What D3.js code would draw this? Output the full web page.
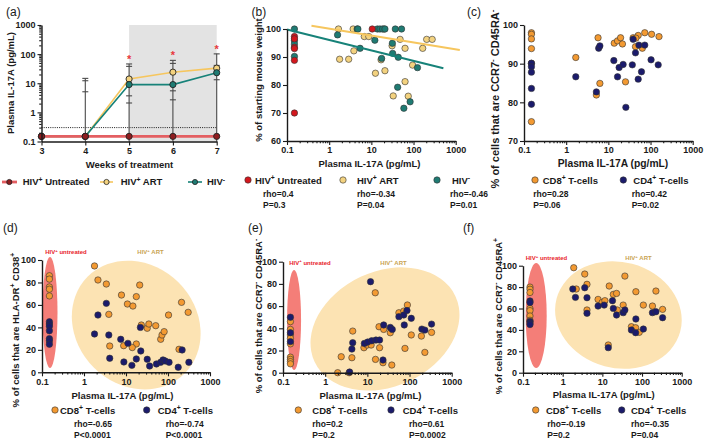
<!DOCTYPE html>
<html><head><meta charset="utf-8">
<script src="https://cdn.jsdelivr.net/npm/d3@7"></script>
<style>
body{margin:0;background:#fff}
svg text{font-family:"Liberation Sans",Arial,Helvetica,sans-serif}
.axis path,.axis line{stroke:#1a1a1a}
.axis path{stroke-width:1.4px}
.axis line{stroke-width:1.1px}
.axis text{font-family:"Liberation Sans",Arial,sans-serif;font-size:9px;font-weight:bold;fill:#1a1a1a}
</style></head>
<body><svg id="c" width="709" height="440"></svg>
<script>
// ---------------- DATA ----------------
// (a) plasma IL-17A over time
const weeks = [3,4,5,6,7];
const weekLabels = ["3","4","5","6","7"];
const untreatedMean = [0.15,0.15,0.15,0.15,0.15];
const artMean = [0.15,0.15,14,24,33];
const negMean = [0.15,0.15,9,9,23];
const artHi = [null,14.7,46,61,102];
const artLo = [null,null,2.1,2.7,13.2];
const negHi = [null,12.2,38,48,41];
const negLo = [null,5.1,3.7,5.5,null];
const sigWeeks = [5,6,7];
const sigTops = [46,61,102];
const detectionLimit = 0.3;
const shadedWeeks = [5,7];
const logDecades = [0.1,1,10,100,1000];
const logLabels = ["0.1","1","10","100","1000"];

// (b) weight vs IL-17A
const bUntreated = [[0.15,97.3],[0.15,96.5],[0.15,93.5],[0.15,93],[0.15,88.8],[0.15,70],[10.5,100]];
const bArt = [[1.66,100],[1.77,89.2],[2.9,89.2],[3.7,100],[3.85,92.2],[6.8,97.3],[8.7,97.3],[12.5,84.2],[17,89],[20,100],[21,85.1],[31,94],[33,76.1],[48,96.3],[63,93.1],[63,81.2],[75,76],[95,87.1],[165,93.1],[205,96.3],[277,96.3]];
const bNeg = [[0.15,100],[0.15,95.8],[0.15,94.6],[0.15,90.2],[1.58,97.9],[4.6,100],[4.8,100],[5.4,93.1],[12.1,96],[13.9,100],[16,100],[18.5,100],[21,100],[17.5,89.5],[31.5,94.9],[32,91.3],[37,100],[42,79.2],[43.5,89.9],[52,100],[59,71.7],[83,74],[124,86.2]];
const bArtFit = [[0.38,101.2],[1250,92.5]];
const bNegFit = [[0.1,99.8],[510,86]];
const bYTicks = [60,70,80,90,100];
const bYLabels = ["60","70","80","90","100"];
const bStats = [["rho=0.4","P=0.3"],["rho=-0.34","P=0.04"],["rho=-0.46","P=0.01"]];

// (c) CCR7- CD45RA-
const cCD8 = [[0.15,98],[0.15,97.6],[0.15,96.4],[0.15,93.9],[0.15,90.1],[0.15,75],[1.69,91.6],[5.7,96.7],[6.3,84.9],[5.2,81.9],[13.8,95.3],[16.5,95.9],[19.5,96.7],[21.6,95.1],[25.5,85.3],[38.7,96.7],[44,94.4],[51,97.3],[64,94],[73,98],[106,97.6],[159,97],[45,96.6]];
const cCD4 = [[0.15,90.1],[0.15,89.2],[0.15,87.8],[0.15,83.6],[0.15,79.5],[1.69,86.6],[5.2,82.7],[5.9,94],[6.3,94.6],[13.5,90.8],[16.5,86.6],[18,89],[22.4,89.8],[26,78.7],[37,89.7],[38.7,96.3],[44,92.8],[51,86],[53,94.8],[61,87.9],[73,94.8],[103,91],[152,89.7]];
const cYTicks = [70,80,90,100];
const cYLabels = ["70","80","90","100"];
const cStats = [["rho=0.28","P=0.06"],["rho=0.42","P=0.02"]];

// (d) HLA-DR+ CD38+
const dCD8 = [[0.15,86],[0.15,83],[0.15,76],[0.15,74],[0.15,68],[1.78,94.7],[2.15,82.2],[3.4,78.6],[3.9,51.6],[4.1,23.4],[7.8,68.8],[8.8,23.7],[10.8,60.8],[14.6,59],[17.6,67.4],[17.6,25.2],[14.1,22],[21.2,77.7],[23.2,42.1],[32,39.2],[35,43],[51,41.5],[67,29.4],[72,33.2],[81,36.2],[103,51],[183,20.5],[210,62.3],[302,53.4]];
const dCD4 = [[0.15,45],[0.15,43],[0.15,41],[0.15,37],[0.15,30],[0.15,28],[0.15,25],[1.78,34.1],[2.15,51],[3.4,61.4],[3.9,33.2],[4.1,12.5],[7.5,29.4],[8.9,9.2],[11.1,25.8],[13.8,6.2],[17.6,11.9],[22,40],[22.5,19],[32,11.6],[36.5,5.6],[53,7.4],[67,8.9],[76,11],[86,10.1],[106,8.9],[175,4.5],[217,19.9],[314,8.9]];
const dStats = [["rho=-0.65","P<0.0001"],["rho=-0.74","P<0.0001"]];

// (e) CCR7- CD45RA-
const eCD8 = [[0.15,46],[0.15,39],[0.15,34],[0.15,31],[0.15,26],[0.15,14],[0.15,12],[0.15,10],[0.15,8],[1.98,0],[2.4,14.4],[3.7,0],[4.3,13.5],[4.5,37.5],[8.3,22.5],[9.9,24.9],[12.3,24.9],[15.4,72],[15.6,12],[18.9,41.4],[19.5,22.5],[23.5,9],[24.4,39],[35,36],[38,6.9],[56,54],[73,55.5],[78,21.9],[89,61],[110,34],[191,33],[231,18.3],[333,36.3]];
const eCD4 = [[0.15,50],[0.15,36],[0.15,28],[3.8,0.6],[4.3,21.3],[4.5,27],[8.5,26.4],[10.2,27.6],[12.7,28.8],[16,29.4],[19.5,29.4],[11.9,82],[23.5,11.4],[24.4,43],[35,40.8],[39,39],[56,50.5],[73,52],[75,43],[87,56],[110,49],[196,39.3],[231,38.4],[333,43.8]];
const eStats = [["rho=0.2","P=0.2"],["rho=0.61","P=0.0002"]];

// (f) CCR7- CD45RA+
const fCD8 = [[0.15,80],[0.15,78],[0.15,75],[0.15,60],[0.15,58],[0.15,53],[0.15,49],[1.9,98.1],[2.2,78.2],[3.6,92.2],[4.1,82.6],[4.1,58.6],[7.8,68.5],[9.9,65.7],[11.6,67.3],[14.9,81],[14.1,25.9],[18.9,73.2],[22.8,74.1],[23.8,58.6],[33.5,63.2],[37,90.3],[54,43],[69,42],[70,75.7],[85,37.7],[108,63.2],[183,62.3],[224,76.3],[330,59.2]];
const fCD4 = [[0.15,67],[0.15,65.5],[0.15,48],[0.15,46.5],[0.15,45],[1.8,78.2],[2.1,70.4],[3.6,79.4],[4.1,70.1],[4.1,55.5],[7.8,62.3],[11.1,63.2],[14.1,23.4],[18,67.3],[18.9,60.1],[22.8,53.9],[33.5,56.1],[37,58.6],[54,39.9],[69,37.4],[70,50.2],[108,40.8],[183,56.1],[224,57],[330,51.4]];
const fStats = [["rho=-0.19","P=0.2"],["rho=-0.35","P=0.04"]];
const pctTicks = [0,20,40,60,80,100];
const pctLabels = ["0","20","40","60","80","100"];

// ---------------- STYLE ----------------
const C = {
  red:"#d3171d", redLine:"#e45f62", redMk:"#8e1d1f",
  yel:"#f3d27f", yelLine:"#f6c65e", teal:"#1f7b73", tealLine:"#178279",
  org:"#f39a32", navy:"#1b1b6c", ink:"#1a1a1a",
  ellRed:"#f47e78", ellYel:"#fce3b3", txtRed:"#e8242b", txtArt:"#c9a353"
};
const svg = d3.select('#c');
const FONT = '"Liberation Sans",Arial,Helvetica,sans-serif';

function rich(t, str, fs){
  const parts = str.split(/(\^.)/).filter(p=>p.length);
  let up=false;
  parts.forEach(p=>{
    if(p[0]==='^'){ t.append('tspan').attr('font-size',fs*0.72).attr('dy',-fs*0.4).text(p[1]); up=true; }
    else { const s=t.append('tspan').text(p); if(up){ s.attr('dy',fs*0.4); up=false; } }
  });
  return t;
}
function label(x,y,str,o={}){
  const fs=o.size||9;
  const t=svg.append('text').attr('x',x).attr('y',y).attr('font-size',fs)
    .attr('font-weight',o.weight||'bold').attr('fill',o.fill||C.ink)
    .attr('text-anchor',o.anchor||'start').attr('font-family',FONT);
  if(o.rotate) t.attr('transform',`rotate(${o.rotate},${x},${y})`);
  return rich(t,str,fs);
}
const minorLog = [];
for(let i=0;i<logDecades.length-1;i++) for(let k=2;k<=9;k++) minorLog.push(logDecades[i]*k);

function axes(x,y,xT,xL,yT,yL,xMinor,yMinor){
  const y0=y.range()[0], x0=x.range()[0];
  const g=svg.append('g').attr('class','axis');
  g.append('g').attr('transform',`translate(0,${y0})`)
   .call(d3.axisBottom(x).tickValues(xT).tickFormat((d,i)=>xL[i]).tickSize(4).tickPadding(2).tickSizeOuter(0));
  if(xMinor) g.append('g').attr('transform',`translate(0,${y0})`)
   .call(d3.axisBottom(x).tickValues(xMinor).tickFormat('').tickSize(2.3).tickSizeOuter(0))
   .call(s=>s.select('.domain').remove());
  g.append('g').attr('transform',`translate(${x0},0)`)
   .call(d3.axisLeft(y).tickValues(yT).tickFormat((d,i)=>yL[i]).tickSize(4).tickPadding(2).tickSizeOuter(0));
  if(yMinor) g.append('g').attr('transform',`translate(${x0},0)`)
   .call(d3.axisLeft(y).tickValues(yMinor).tickFormat('').tickSize(2.3).tickSizeOuter(0))
   .call(s=>s.select('.domain').remove());
}
function dots(x,y,data,fill,r=3.2){
  svg.append('g').selectAll('circle').data(data).join('circle')
    .attr('cx',d=>x(d[0])).attr('cy',d=>y(d[1])).attr('r',r)
    .attr('fill',fill).attr('stroke','#333').attr('stroke-width',0.6);
}
function ellipse(x,y,e){
  svg.append('ellipse')
    .attr('transform',`translate(${x(e.cx)},${y(e.cy)}) rotate(${e.rot||0})`)
    .attr('rx',e.rx).attr('ry',e.ry).attr('fill',e.fill);
}

// ---------------- PANEL A ----------------
{
  const x=d3.scaleLinear().domain([3,7]).range([41.5,216.7]);
  const y=d3.scaleLog().domain([0.1,1000]).range([141.5,25]);
  svg.append('rect').attr('x',x(shadedWeeks[0])).attr('y',y(1000))
    .attr('width',x(shadedWeeks[1])-x(shadedWeeks[0])).attr('height',y(0.1)-y(1000)).attr('fill','#e3e3e3');
  svg.append('line').attr('x1',x(3)).attr('x2',x(7)).attr('y1',y(detectionLimit)).attr('y2',y(detectionLimit))
    .attr('stroke',C.ink).attr('stroke-width',1).attr('stroke-dasharray','1,1.2');
  const eb=svg.append('g').attr('stroke','#4a4a4a').attr('stroke-width',1.1);
  weeks.forEach((w,i)=>{
    const his=[artHi[i],negHi[i]].filter(v=>v!=null);
    if(!his.length) return;
    const top=d3.max(his);
    eb.append('line').attr('x1',x(w)).attr('x2',x(w)).attr('y1',y(0.1)).attr('y2',y(top));
    [artHi[i],negHi[i],artLo[i],negLo[i]].forEach(v=>{
      if(v==null) return;
      eb.append('line').attr('x1',x(w)-3).attr('x2',x(w)+3).attr('y1',y(v)).attr('y2',y(v));
    });
  });
  const line=d3.line().x((d,i)=>x(weeks[i])).y(d=>y(d));
  svg.append('path').attr('d',line(artMean)).attr('fill','none').attr('stroke',C.yelLine).attr('stroke-width',1.6);
  svg.append('path').attr('d',line(negMean)).attr('fill','none').attr('stroke',C.tealLine).attr('stroke-width',1.6);
  svg.append('path').attr('d',line(untreatedMean)).attr('fill','none').attr('stroke',C.redLine).attr('stroke-width',2.8);
  const mk=(arr,fill)=>svg.append('g').selectAll('circle').data(arr).join('circle')
    .attr('cx',(d,i)=>x(weeks[i])).attr('cy',d=>y(d)).attr('r',3.1).attr('fill',fill).attr('stroke','#222').attr('stroke-width',0.9);
  mk(artMean,C.yel); mk(negMean,C.teal); mk(untreatedMean,C.redMk);
  sigWeeks.forEach((w,i)=>label(x(w),y(sigTops[i])-1,"*",{size:11,fill:"#e8393c",anchor:'middle'}));
  axes(x,y,weeks,weekLabels,logDecades,logLabels,null,minorLog);
  label(129.5,167.5,"Weeks of treatment",{size:9.5,anchor:'middle'});
  label(14,83,"Plasma IL-17A (pg/mL)",{size:9.5,anchor:'middle',rotate:-90});
  label(6,15.5,"(a)",{size:12,weight:'normal'});
  const lg=[[2,17,9.3,22.7,"HIV^+ Untreated",C.redLine,C.redMk,2.8],[100,113,106.5,120.7,"HIV^+ ART",C.yelLine,C.yel,1.6],[188,202,195,207,"HIV^-",C.tealLine,C.teal,1.6]];
  lg.forEach(l=>{
    svg.append('line').attr('x1',l[0]).attr('x2',l[1]).attr('y1',182).attr('y2',182).attr('stroke',l[5]).attr('stroke-width',l[7]);
    svg.append('circle').attr('cx',l[2]).attr('cy',182).attr('r',2.6).attr('fill',l[6]).attr('stroke','#222').attr('stroke-width',0.8);
    label(l[3],185.3,l[4],{size:9.5});
  });
}

// ---------------- PANEL B ----------------
{
  const x=d3.scaleLog().domain([0.1,1000]).range([287,455.7]);
  const y=d3.scaleLinear().domain([60,100]).range([141,29]);
  const fl=d3.line().x(d=>x(d[0])).y(d=>y(d[1]));
  dots(x,y,bArt,C.yel); dots(x,y,bNeg,C.teal); dots(x,y,bUntreated,C.red);
  svg.append('path').attr('d',fl(bArtFit)).attr('stroke',C.yelLine).attr('stroke-width',2).attr('fill','none');
  svg.append('path').attr('d',fl(bNegFit)).attr('stroke',C.tealLine).attr('stroke-width',2).attr('fill','none');
  axes(x,y,logDecades,logLabels,bYTicks,bYLabels,minorLog,null);
  label(369.5,166.5,"Plasma IL-17A (pg/mL)",{size:9.5,anchor:'middle'});
  label(262,80,"% of starting mouse weight",{size:9.5,anchor:'middle',rotate:-90});
  label(251.5,15.5,"(b)",{size:12,weight:'normal'});
  const lg=[[248,255,"HIV^+ Untreated",C.red,263],[343,357,"HIV^+ ART",C.yel,357],[437,452,"HIV^-",C.teal,450]];
  lg.forEach((l,i)=>{
    svg.append('circle').attr('cx',l[0]).attr('cy',180).attr('r',3.2).attr('fill',l[3]).attr('stroke','#333').attr('stroke-width',0.6);
    label(l[1],183.5,l[2],{size:9.5});
    label(l[4],197.2,bStats[i][0],{size:8.5});
    label(l[4],208.2,bStats[i][1],{size:8.5});
  });
}

// ---------------- CD8/CD4 PANELS ----------------
function cellPanel(o){
  const x=d3.scaleLog().domain([0.1,1000]).range(o.xr);
  const y=d3.scaleLinear().domain(o.yd).range(o.yr);
  (o.ells||[]).forEach(e=>ellipse(x,y,e));
  (o.notes||[]).forEach(n=>label(n[0],n[1],n[2],{size:6,fill:n[3],anchor:'middle'}));
  dots(x,y,o.cd8,C.org); dots(x,y,o.cd4,C.navy);
  axes(x,y,logDecades,logLabels,o.yt,o.ytl,minorLog,null);
  label(o.xt[0],o.xt[1],"Plasma IL-17A (pg/mL)",{size:o.fs||9.5,anchor:'middle'});
  label(o.yl[0],o.yl[1],o.ylab,{size:o.yfs||9.5,anchor:'middle',rotate:-90});
  label(o.tag[0],o.tag[1],o.tag[2],{size:12,weight:'normal'});
  const L=o.leg;
  svg.append('circle').attr('cx',L.d8).attr('cy',L.y).attr('r',3.2).attr('fill',C.org).attr('stroke','#333').attr('stroke-width',0.6);
  label(L.t8,L.y+3.5,"CD8^+ T-cells",{size:9.5});
  svg.append('circle').attr('cx',L.d4).attr('cy',L.y).attr('r',3.2).attr('fill',C.navy).attr('stroke','#333').attr('stroke-width',0.6);
  label(L.t4,L.y+3.5,"CD4^+ T-cells",{size:9.5});
  label(L.s8,L.y+16.5,o.stats[0][0],{size:8.5});
  label(L.s8,L.y+27.5,o.stats[0][1],{size:8.5});
  label(L.s4,L.y+16.5,o.stats[1][0],{size:8.5});
  label(L.s4,L.y+27.5,o.stats[1][1],{size:8.5});
}
cellPanel({xr:[524,692.7],yd:[70,100],yr:[141,25],yt:cYTicks,ytl:cYLabels,cd8:cCD8,cd4:cCD4,fs:10.3,yfs:11,
  xt:[613,166.8],yl:[499,99],ylab:"% of cells that are CCR7^- CD45RA^-",tag:[467,15.5,"(c)"],
  leg:{y:180,d8:535,t8:542.7,d4:623.3,t4:633.3,s8:533.3,s4:631.7},stats:cStats});
cellPanel({xr:[42,210],yd:[0,100],yr:[372.3,260],yt:pctTicks,ytl:pctLabels,cd8:dCD8,cd4:dCD4,
  ells:[{cx:0.155,cy:53.2,rx:7.5,ry:55.5,fill:C.ellRed},{cx:17.5,cy:42.1,rx:68.5,ry:60,rot:45,fill:C.ellYel}],
  notes:[[66,254,"HIV^+ untreated",C.txtRed],[150.5,254,"HIV^+ ART",C.txtArt]],
  xt:[122.5,398.5],yl:[19,330],ylab:"% of cells that are HLA-DR^+ CD38^+",tag:[3,231.5,"(d)"],
  leg:{y:410,d8:55,t8:60,d4:146.7,t4:157.7,s8:74,s4:165.7},stats:dStats});
cellPanel({xr:[283,451.7],yd:[0,100],yr:[372.7,261.7],yt:pctTicks,ytl:pctLabels,cd8:eCD8,cd4:eCD4,
  ells:[{cx:0.183,cy:47.5,rx:7,ry:50,fill:C.ellRed},{cx:26.2,cy:39.4,rx:77.7,ry:57.5,rot:-25,fill:C.ellYel}],
  notes:[[310,264.5,"HIV^+ untreated",C.txtRed],[393.5,264.5,"HIV^+ ART",C.txtArt]],
  xt:[370.5,398.5],yl:[262,316],ylab:"% of cells that are CCR7^- CD45RA^-",tag:[248,231.5,"(e)"],
  leg:{y:410,d8:298.3,t8:312.3,d4:391,t4:402.7,s8:312.3,s4:409},stats:eStats});
cellPanel({xr:[523,681.7],yd:[0,100],yr:[372.7,265.7],yt:pctTicks,ytl:pctLabels,cd8:fCD8,cd4:fCD4,
  ells:[{cx:0.215,cy:53.5,rx:10.5,ry:52.5,fill:C.ellRed},{cx:25.4,cy:53.9,rx:64,ry:53,rot:15,fill:C.ellYel}],
  notes:[[546.5,260,"HIV^+ untreated",C.txtRed],[638.5,260,"HIV^+ ART",C.txtArt]],
  xt:[603.7,397.8],yl:[502,316],ylab:"% of cells that are CCR7^- CD45RA^+",tag:[463,231.5,"(f)"],
  leg:{y:410,d8:535.7,t8:546,d4:621.7,t4:631,s8:547.3,s4:631},stats:fStats});
</script></body></html>
